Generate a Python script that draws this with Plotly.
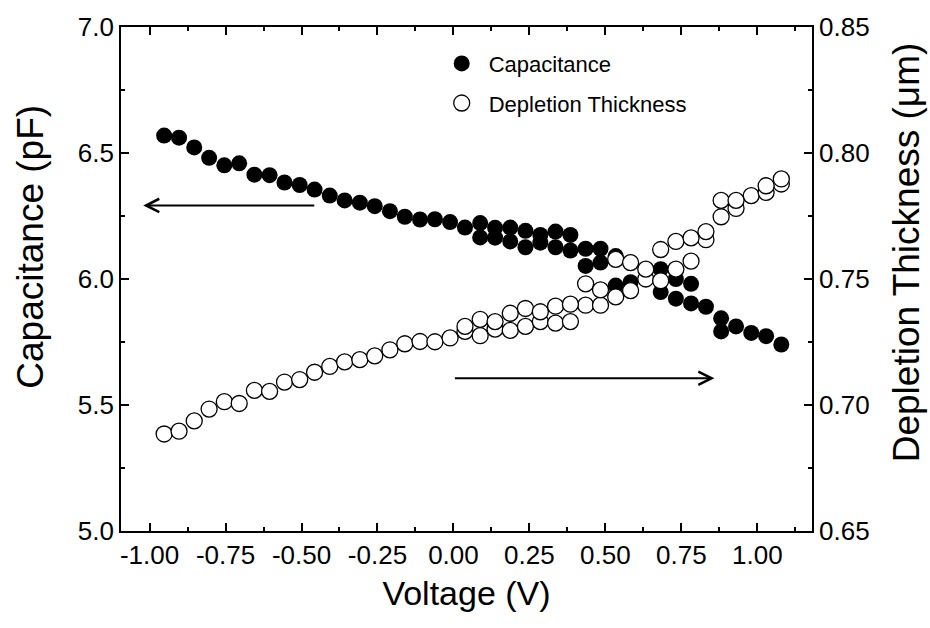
import plotly.graph_objects as go

# ---- data ----
volt = [-0.952, -0.903, -0.853, -0.804, -0.754, -0.705, -0.655, -0.605, -0.556, -0.506,
        -0.457, -0.407, -0.358, -0.308, -0.259, -0.209, -0.160, -0.110, -0.061, -0.011,
        0.038, 0.088, 0.137, 0.187, 0.237, 0.286, 0.336, 0.385, 0.435, 0.484,
        0.534, 0.583, 0.633, 0.682, 0.732, 0.782, 0.831, 0.881, 0.930, 0.980,
        1.029, 1.079]
cap_a = [6.569, 6.561, 6.522, 6.481, 6.451, 6.459, 6.414, 6.412, 6.383, 6.373,
         6.355, 6.331, 6.312, 6.303, 6.289, 6.269, 6.247, 6.236, 6.237, 6.226,
         6.204, 6.222, 6.203, 6.204, 6.191, 6.175, 6.188, 6.175, 6.120, 6.120,
         6.091, 5.987, 6.000, 6.039, 6.000, 5.981, 5.890, 5.844, 5.812, 5.786,
         5.773, 5.740]
volt_cb = [0.088, 0.137, 0.187, 0.237, 0.286, 0.336, 0.385, 0.435, 0.484, 0.534,
           0.682, 0.732, 0.782, 0.881]
cap_b = [6.165, 6.164, 6.149, 6.126, 6.144, 6.126, 6.113, 6.052, 6.065, 5.974,
         5.948, 5.922, 5.903, 5.792]
dep_a = [0.6885, 0.6896, 0.6937, 0.6984, 0.7013, 0.7006, 0.7058, 0.7054, 0.7091, 0.7101,
         0.7130, 0.7153, 0.7171, 0.7180, 0.7195, 0.7219, 0.7243, 0.7252, 0.7251, 0.7266,
         0.7292, 0.7275, 0.7301, 0.7296, 0.7312, 0.7331, 0.7325, 0.7331, 0.7396, 0.7396,
         0.7429, 0.7454, 0.7500, 0.7493, 0.7539, 0.7571, 0.7656, 0.7747, 0.7780, 0.7831,
         0.7844, 0.7877]
volt_db = [0.038, 0.088, 0.137, 0.187, 0.237, 0.286, 0.336, 0.385, 0.435, 0.484,
           0.534, 0.583, 0.633, 0.682, 0.732, 0.782, 0.831, 0.881, 0.930, 1.029, 1.079]
dep_b = [0.7312, 0.7340, 0.7331, 0.7364, 0.7383, 0.7370, 0.7392, 0.7400, 0.7481, 0.7457,
         0.7578, 0.7565, 0.7539, 0.7617, 0.7649, 0.7663, 0.7688, 0.7812, 0.7812, 0.7870,
         0.7897]

# tick labels
x_ticks = [-1.0, -0.75, -0.5, -0.25, 0.0, 0.25, 0.5, 0.75, 1.0]
x_labels = ["-1.00", "-0.75", "-0.50", "-0.25", "0.00", "0.25", "0.50", "0.75", "1.00"]
y_ticks = [5.0, 5.5, 6.0, 6.5, 7.0]
y_labels = ["5.0", "5.5", "6.0", "6.5", "7.0"]
y2_ticks = [0.65, 0.70, 0.75, 0.80, 0.85]
y2_labels = ["0.65", "0.70", "0.75", "0.80", "0.85"]

# arrows (data coords): left arrow on capacitance axis, right arrow on thickness axis
arrow_left = dict(x0=-0.453, x1=-1.021, y=6.292)
arrow_right = dict(x0=0.0, x1=0.859, y=0.7106)

FONT = "Arial, Liberation Sans, sans-serif"
MS = 16

filled = dict(symbol="circle", size=MS, color="black", line=dict(width=0))
opened = dict(symbol="circle", size=MS, color="white", line=dict(width=1.3, color="black"))

fig = go.Figure()
fig.add_trace(go.Scatter(x=volt, y=cap_a, mode="markers", marker=filled,
                         name="Capacitance", legendgroup="c", yaxis="y"))
fig.add_trace(go.Scatter(x=volt_cb, y=cap_b, mode="markers", marker=filled,
                         name="Capacitance", legendgroup="c", showlegend=False, yaxis="y"))
fig.add_trace(go.Scatter(x=volt, y=dep_a, mode="markers", marker=opened,
                         name="Depletion Thickness", legendgroup="d", yaxis="y2"))
fig.add_trace(go.Scatter(x=volt_db, y=dep_b, mode="markers", marker=opened,
                         name="Depletion Thickness", legendgroup="d", showlegend=False, yaxis="y2"))

TICKFONT = dict(family=FONT, size=26, color="black")
axis_common = dict(showline=True, linecolor="black", linewidth=1.6, ticks="inside",
                   tickcolor="black", tickwidth=1.6, ticklen=8, showgrid=False,
                   zeroline=False, tickfont=TICKFONT)
minor_common = dict(ticks="inside", ticklen=4, tickcolor="black", tickwidth=1.6)

fig.update_layout(
    width=930, height=628,
    margin=dict(l=121, r=118, t=18, b=97),
    paper_bgcolor="white", plot_bgcolor="white",
    font=dict(family=FONT, color="black"),
    xaxis=dict(range=[-1.094, 1.18], tickmode="array", tickvals=x_ticks, ticktext=x_labels,
               mirror="ticks", minor=dict(tick0=-1, dtick=0.125, **minor_common),
               title=dict(text="Voltage (V)", font=dict(family=FONT, size=34), standoff=12),
               **axis_common),
    yaxis=dict(range=[5, 7], tickmode="array", tickvals=y_ticks, ticktext=y_labels,
               minor=dict(tick0=5, dtick=0.25, **minor_common),
               **axis_common),
    yaxis2=dict(range=[0.65, 0.85], tickmode="array", tickvals=y2_ticks, ticktext=y2_labels,
                overlaying="y", side="right",
                minor=dict(tick0=0.65, dtick=0.025, **minor_common),
                **axis_common),
    legend=dict(x=0.454, y=0.969, xanchor="left", yanchor="top",
                font=dict(family=FONT, size=22), bgcolor="rgba(0,0,0,0)",
                tracegroupgap=8, itemwidth=44),
    showlegend=True,
)

# vertical axis titles (placed as in the reference, slightly above centre)
fig.add_annotation(text="Capacitance (pF)", xref="paper", yref="paper",
                   x=-0.131, y=0.565, xanchor="center", yanchor="middle", textangle=-90,
                   showarrow=False, font=dict(family=FONT, size=37, color="black"))
fig.add_annotation(text="Depletion Thickness (\u03bcm)", xref="paper", yref="paper",
                   x=1.136, y=0.553, xanchor="center", yanchor="middle", textangle=-90,
                   showarrow=False, font=dict(family=FONT, size=37, color="black"))

fig.add_annotation(x=arrow_left["x1"], y=arrow_left["y"], ax=arrow_left["x0"], ay=arrow_left["y"],
                   xref="x", yref="y", axref="x", ayref="y", text="", showarrow=True,
                   arrowhead=5, arrowsize=1.3, arrowwidth=2, arrowcolor="black")
fig.add_annotation(x=arrow_right["x1"], y=arrow_right["y"], ax=arrow_right["x0"], ay=arrow_right["y"],
                   xref="x", yref="y2", axref="x", ayref="y2", text="", showarrow=True,
                   arrowhead=5, arrowsize=1.3, arrowwidth=2, arrowcolor="black")

fig.write_html("out.html")
